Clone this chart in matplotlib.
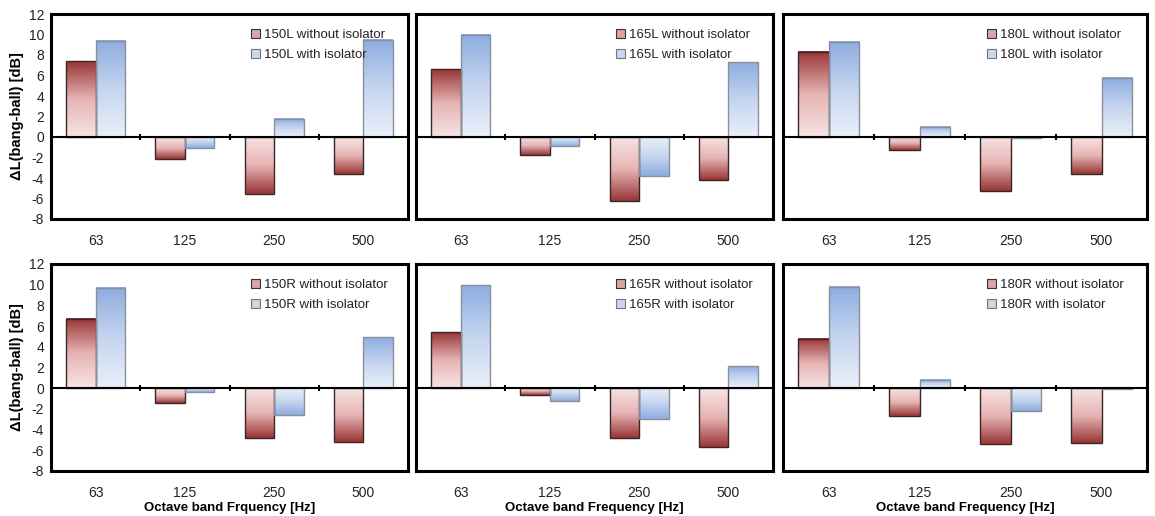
import numpy as np
import matplotlib
matplotlib.use("Agg")
import matplotlib.pyplot as plt
from matplotlib.colors import LinearSegmentedColormap
from matplotlib.patches import Patch

plt.rcParams['font.family'] = ['Liberation Sans', 'DejaVu Sans']
plt.rcParams['text.color'] = '#222222'
plt.rcParams['xtick.color'] = '#222222'
plt.rcParams['ytick.color'] = '#222222'

bands = ["63", "125", "250", "500"]
yticks = np.arange(-8, 13, 2)

# top row (L), bottom row (R)
names = ["150L", "165L", "180L", "150R", "165R", "180R"]
without_iso = [
    [7.4, -2.1, -5.6, -3.6],
    [6.6, -1.8, -6.2, -4.2],
    [8.3, -1.3, -5.3, -3.6],
    [6.7, -1.4, -4.8, -5.2],
    [5.4, -0.7, -4.8, -5.7],
    [4.8, -2.7, -5.4, -5.3],
]
with_iso = [
    [9.4, -1.1, 1.8, 9.5],
    [10.0, -0.9, -3.8, 7.3],
    [9.3, 1.0, -0.1, 5.8],
    [9.7, -0.4, -2.6, 4.9],
    [9.95, -1.2, -3.0, 2.1],
    [9.8, 0.8, -2.2, -0.1],
]
xlabels = ["Octave band Frquency [Hz]", "Octave band Frequency [Hz]", "Octave band Frequency [Hz]"]

red_cmap = LinearSegmentedColormap.from_list("r", ["#f7e3e3", "#e6b4b4", "#9a3636"])
blue_cmap = LinearSegmentedColormap.from_list("b", ["#e9eff9", "#c5d5ef", "#8eade0"])

W, H = 1155, 516
fig = plt.figure(figsize=(W / 100, H / 100), dpi=100)

lefts = [51, 416, 783]
rights = [408, 773, 1147]
tops = [14, 264]
bots = [219, 471]

grad = np.linspace(0, 1, 100).reshape(-1, 1)
bw = 0.33


def gradient_bar(ax, x0, val, cmap, edge):
    ax.imshow(grad, cmap=cmap, extent=[x0, x0 + bw, 0, val], origin='lower',
              aspect='auto', zorder=2, interpolation='bilinear')
    ax.bar(x0, val, width=bw, align='edge', facecolor='none', edgecolor=edge,
           linewidth=1.0, zorder=3)


for i in range(6):
    r, c = divmod(i, 3)
    ax = fig.add_axes([lefts[c] / W, 1 - bots[r] / H,
                       (rights[c] - lefts[c]) / W, (bots[r] - tops[r]) / H])
    x = np.arange(len(bands))
    for k in range(len(bands)):
        gradient_bar(ax, x[k] - bw, without_iso[i][k], red_cmap, "#3a2626")
        gradient_bar(ax, x[k], with_iso[i][k], blue_cmap, "#8a8f99")
    ax.axhline(0, color='black', lw=1.5, zorder=4)
    ax.vlines([0.5, 1.5, 2.5], -0.3, 0.3, color='black', lw=1.5, zorder=4)
    ax.set_xlim(-0.5, 3.5)
    ax.set_ylim(-8, 12)
    ax.set_xticks(x)
    ax.set_xticklabels(bands, fontsize=10)
    ax.tick_params(axis='x', length=0, pad=11)
    ax.set_yticks(yticks)
    if c == 0:
        ax.set_yticklabels([str(t) for t in yticks], fontsize=10)
        ax.tick_params(axis='y', length=0, pad=5)
        ax.set_ylabel("ΔL(bang-ball) [dB]", fontsize=10.5, fontweight='bold', labelpad=3)
    else:
        ax.tick_params(axis='y', length=0, labelleft=False)
    if r == 1:
        ax.set_xlabel(xlabels[c], fontsize=9.5, fontweight='bold', labelpad=1)
    for s in ax.spines.values():
        s.set_linewidth(2.2)
    handles = [Patch(facecolor="#dba3a3", edgecolor="#333333", lw=0.8),
               Patch(facecolor="#c8d7f0", edgecolor="#777777", lw=0.8)]
    ax.legend(handles, [names[i] + " without isolator", names[i] + " with isolator"],
              loc='upper left', bbox_to_anchor=(0.545, 0.955), frameon=False,
              fontsize=9.5, handlelength=0.7, handleheight=0.7, handletextpad=0.3,
              labelspacing=0.6, borderaxespad=0)

fig.savefig("out.png", dpi=100)
